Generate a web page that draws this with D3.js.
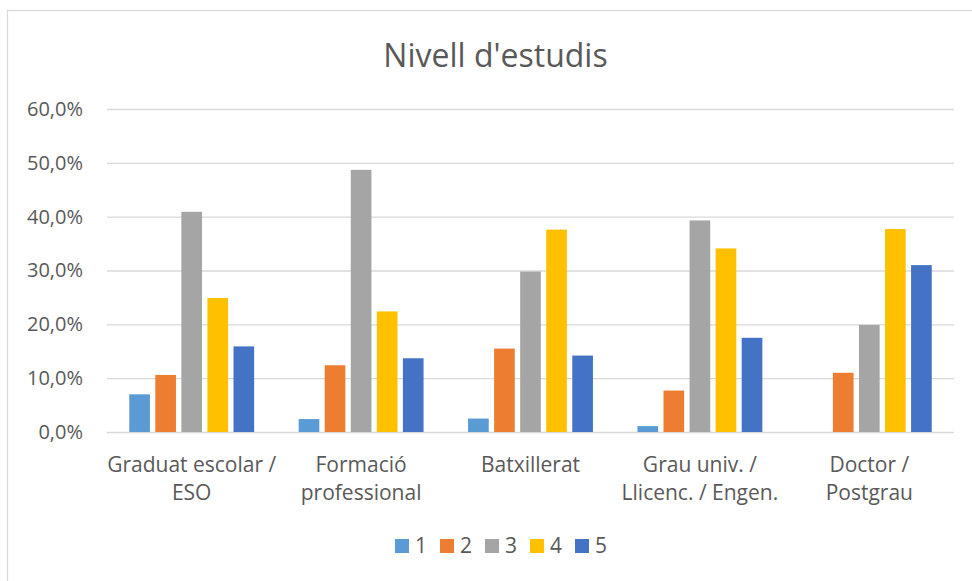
<!DOCTYPE html>
<html>
  <head>
    <meta charset="utf-8">
    <title>Nivell d'estudis</title>
    <script src="https://d3js.org/d3.v7.min.js"></script>
    <style>
      body { margin: 0; background: #fff; }
      text { font-family: "Open Sans", sans-serif; fill: #595959; }
    </style>
  </head>
  <body>
    <script>
      var width = 972;
      var height = 581;

      // data
      var categories = [
        ["Graduat escolar /", "ESO"],
        ["Formació", "professional"],
        ["Batxillerat"],
        ["Grau univ. /", "Llicenc. / Engen."],
        ["Doctor /", "Postgrau"]
      ];
      var seriesNames = ["1", "2", "3", "4", "5"];
      var s1 = [7.0, 2.4, 2.5, 1.1, 0.0];
      var s2 = [10.6, 12.4, 15.5, 7.7, 11.0];
      var s3 = [40.9, 48.7, 29.8, 39.3, 19.9];
      var s4 = [24.9, 22.4, 37.6, 34.1, 37.7];
      var s5 = [15.9, 13.7, 14.2, 17.5, 31.0];
      var yTicks = [0, 10, 20, 30, 40, 50, 60];
      var colors = ["#5b9bd5", "#ed7d31", "#a5a5a5", "#ffc000", "#4472c4"];

      var series = [s1, s2, s3, s4, s5];

      var svg = d3.select("body").append("svg")
        .attr("width", width).attr("height", height);

      // chart border
      svg.append("rect")
        .attr("x", 7.5).attr("y", 10.5)
        .attr("width", 990).attr("height", 600)
        .attr("fill", "#fff")
        .attr("stroke", "#d9d9d9").attr("stroke-width", 1.3);

      // title
      svg.append("text")
        .attr("x", 495.5).attr("y", 67)
        .attr("text-anchor", "middle")
        .style("font-size", "32px")
        .text("Nivell d'estudis");

      var plotLeft = 107, plotRight = 954;

      var yScale = d3.scaleLinear()
        .domain([0, 60])
        .range([432, 109]);

      var xScale = d3.scaleBand()
        .domain(d3.range(categories.length))
        .range([plotLeft, plotRight]);

      var xInner = d3.scaleBand()
        .domain(d3.range(seriesNames.length))
        .range([0, xScale.bandwidth()])
        .paddingOuter(0.854)
        .paddingInner(0.207);

      // gridlines + y labels
      var axisy = d3.axisLeft(yScale)
        .tickValues(yTicks)
        .tickSize(-(plotRight - plotLeft))
        .tickPadding(24)
        .tickFormat(function (d) { return d.toFixed(1).replace(".", ",") + "%"; });

      var gy = svg.append("g")
        .attr("transform", "translate(" + plotLeft + ",0)")
        .call(axisy);
      gy.select(".domain").remove();
      gy.selectAll(".tick line")
        .attr("stroke", "#d9d9d9").attr("stroke-width", 1.3);
      gy.selectAll(".tick text")
        .style("font-size", "20px")
        .attr("fill", "#595959");

      // bars
      series.forEach(function (vals, si) {
        svg.append("g")
          .selectAll("rect")
          .data(vals)
          .enter()
          .append("rect")
          .attr("x", function (d, i) { return xScale(i) + xInner(si); })
          .attr("y", function (d) { return yScale(d); })
          .attr("width", xInner.bandwidth())
          .attr("height", function (d) { return yScale(0) - yScale(d); })
          .attr("fill", colors[si]);
      });

      // category labels
      var catG = svg.append("g");
      categories.forEach(function (lines, i) {
        var t = catG.append("text")
          .attr("text-anchor", "middle")
          .style("font-size", "21px");
        lines.forEach(function (line, j) {
          t.append("tspan")
            .attr("x", xScale(i) + xScale.bandwidth() / 2)
            .attr("y", 472 + j * 27.5)
            .text(line);
        });
      });

      // legend
      var legend = svg.append("g")
        .selectAll("g")
        .data(seriesNames)
        .enter()
        .append("g")
        .attr("transform", function (d, i) { return "translate(" + (395 + i * 45) + ",539)"; });
      legend.append("rect")
        .attr("width", 14).attr("height", 14)
        .attr("fill", function (d, i) { return colors[i]; });
      legend.append("text")
        .attr("x", 20).attr("y", 14)
        .style("font-size", "21px")
        .text(function (d) { return d; });
    </script>
  </body>
</html>
